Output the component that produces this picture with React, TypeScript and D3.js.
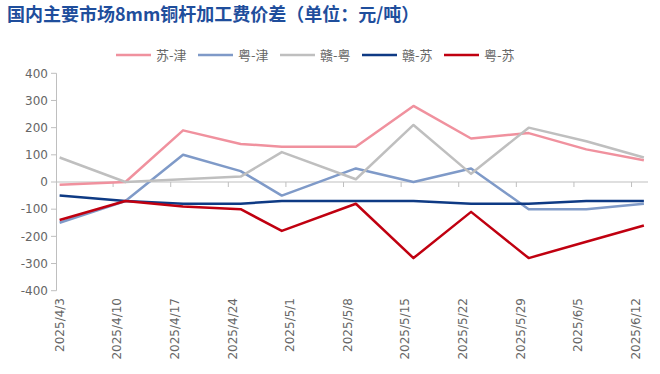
import React from "react";
import * as d3 from "d3";

const title = "国内主要市场8mm铜杆加工费价差（单位：元/吨）";
const dataDates = ["2025-04-03", "2025-04-11", "2025-04-18", "2025-04-25", "2025-04-30", "2025-05-09", "2025-05-16", "2025-05-23", "2025-05-30", "2025-06-06", "2025-06-13"];
const labelDates = ["2025-04-03", "2025-04-10", "2025-04-17", "2025-04-24", "2025-05-01", "2025-05-08", "2025-05-15", "2025-05-22", "2025-05-29", "2025-06-05", "2025-06-12"];
const labelTexts = ["2025/4/3", "2025/4/10", "2025/4/17", "2025/4/24", "2025/5/1", "2025/5/8", "2025/5/15", "2025/5/22", "2025/5/29", "2025/6/5", "2025/6/12"];
const yTicks = [400, 300, 200, 100, 0, -100, -200, -300, -400];

const suJin = [-10, 0, 190, 140, 130, 130, 280, 160, 180, 120, 80];
const yueJin = [-150, -70, 100, 40, -50, 50, 0, 50, -100, -100, -80];
const ganYue = [90, 0, 10, 20, 110, 10, 210, 30, 200, 150, 90];
const ganSu = [-50, -70, -80, -80, -70, -70, -70, -80, -80, -70, -70];
const yueSu = [-140, -70, -90, -100, -180, -80, -280, -110, -280, -220, -160];

const seriesNames = ["苏-津", "粤-津", "赣-粤", "赣-苏", "粤-苏"];
const seriesColors = ["#f0919e", "#7f9ac8", "#bfbfbf", "#0e3a84", "#c00010"];
const seriesValues = [suJin, yueJin, ganYue, ganSu, yueSu];

const DAY = 86400000;
const parse = (s: string) => new Date(s + "T00:00:00Z");

export default function App() {
  const W = 660, H = 374;
  const x = d3.scaleUtc().domain([parse("2025-04-03"), parse("2025-06-14")]).range([55.5, 648]);
  const y = d3.scaleLinear().domain([-400, 400]).range([290.7, 73.3]);
  const mid = (s: string) => new Date(parse(s).getTime() + DAY / 2);

  const line = d3.line<[Date, number]>().x(d => x(d[0])).y(d => y(d[1]));
  const axisColor = "#bfbfbf";
  const textColor = "#666666";
  const font = "'DejaVu Sans', sans-serif";
  const cjk = "'Noto Sans CJK SC', sans-serif";

  const legendX0 = 116;
  const legendStep = 82;

  return (
    <svg width={W} height={H} style={{ position: "absolute", left: 0, top: 0, background: "#fff" }}>
      <rect width={W} height={H} fill="#fff" />
      <text x={7} y={21} fontFamily={cjk} fontWeight="bold" fontSize={18} fill="#1f4e9c">{title}</text>

      {/* legend */}
      {seriesNames.map((n, i) => (
        <g key={n} transform={`translate(${legendX0 + i * legendStep},55)`}>
          <line x1={0} x2={35} y1={0} y2={0} stroke={seriesColors[i]} strokeWidth={2.5} />
          <text x={40} y={0} dy="0.35em" fontFamily={cjk} fontSize={13} fill={textColor}>{n}</text>
        </g>
      ))}

      {/* y axis */}
      <line x1={56.5} x2={56.5} y1={y(400)} y2={y(-400)} stroke={axisColor} strokeWidth={1} />
      {yTicks.map(t => (
        <g key={t}>
          <line x1={51} x2={56.5} y1={y(t)} y2={y(t)} stroke={axisColor} />
          <text x={48} y={y(t)} dy="0.35em" textAnchor="end" fontFamily={font} fontSize={12} fill={textColor}>{t}</text>
        </g>
      ))}

      {/* x axis at zero */}
      <line x1={56.5} x2={648} y1={y(0)} y2={y(0)} stroke={axisColor} strokeWidth={1} />
      {labelDates.slice(1).map(d => (
        <line key={d} x1={x(parse(d))} x2={x(parse(d))} y1={y(0)} y2={y(0) + 5} stroke={axisColor} />
      ))}
      {labelDates.map((d, i) => (
        <text key={d} transform={`translate(${x(mid(d))},298) rotate(-90)`} textAnchor="end" dy="0.35em" fontFamily={font} fontSize={12} fill={textColor}>{labelTexts[i]}</text>
      ))}

      {/* series */}
      {seriesValues.map((vals, i) => (
        <path key={i} d={line(vals.map((v, j) => [mid(dataDates[j]), v] as [Date, number])) || ""} fill="none" stroke={seriesColors[i]} strokeWidth={2.5} strokeLinejoin="round" />
      ))}
    </svg>
  );
}
